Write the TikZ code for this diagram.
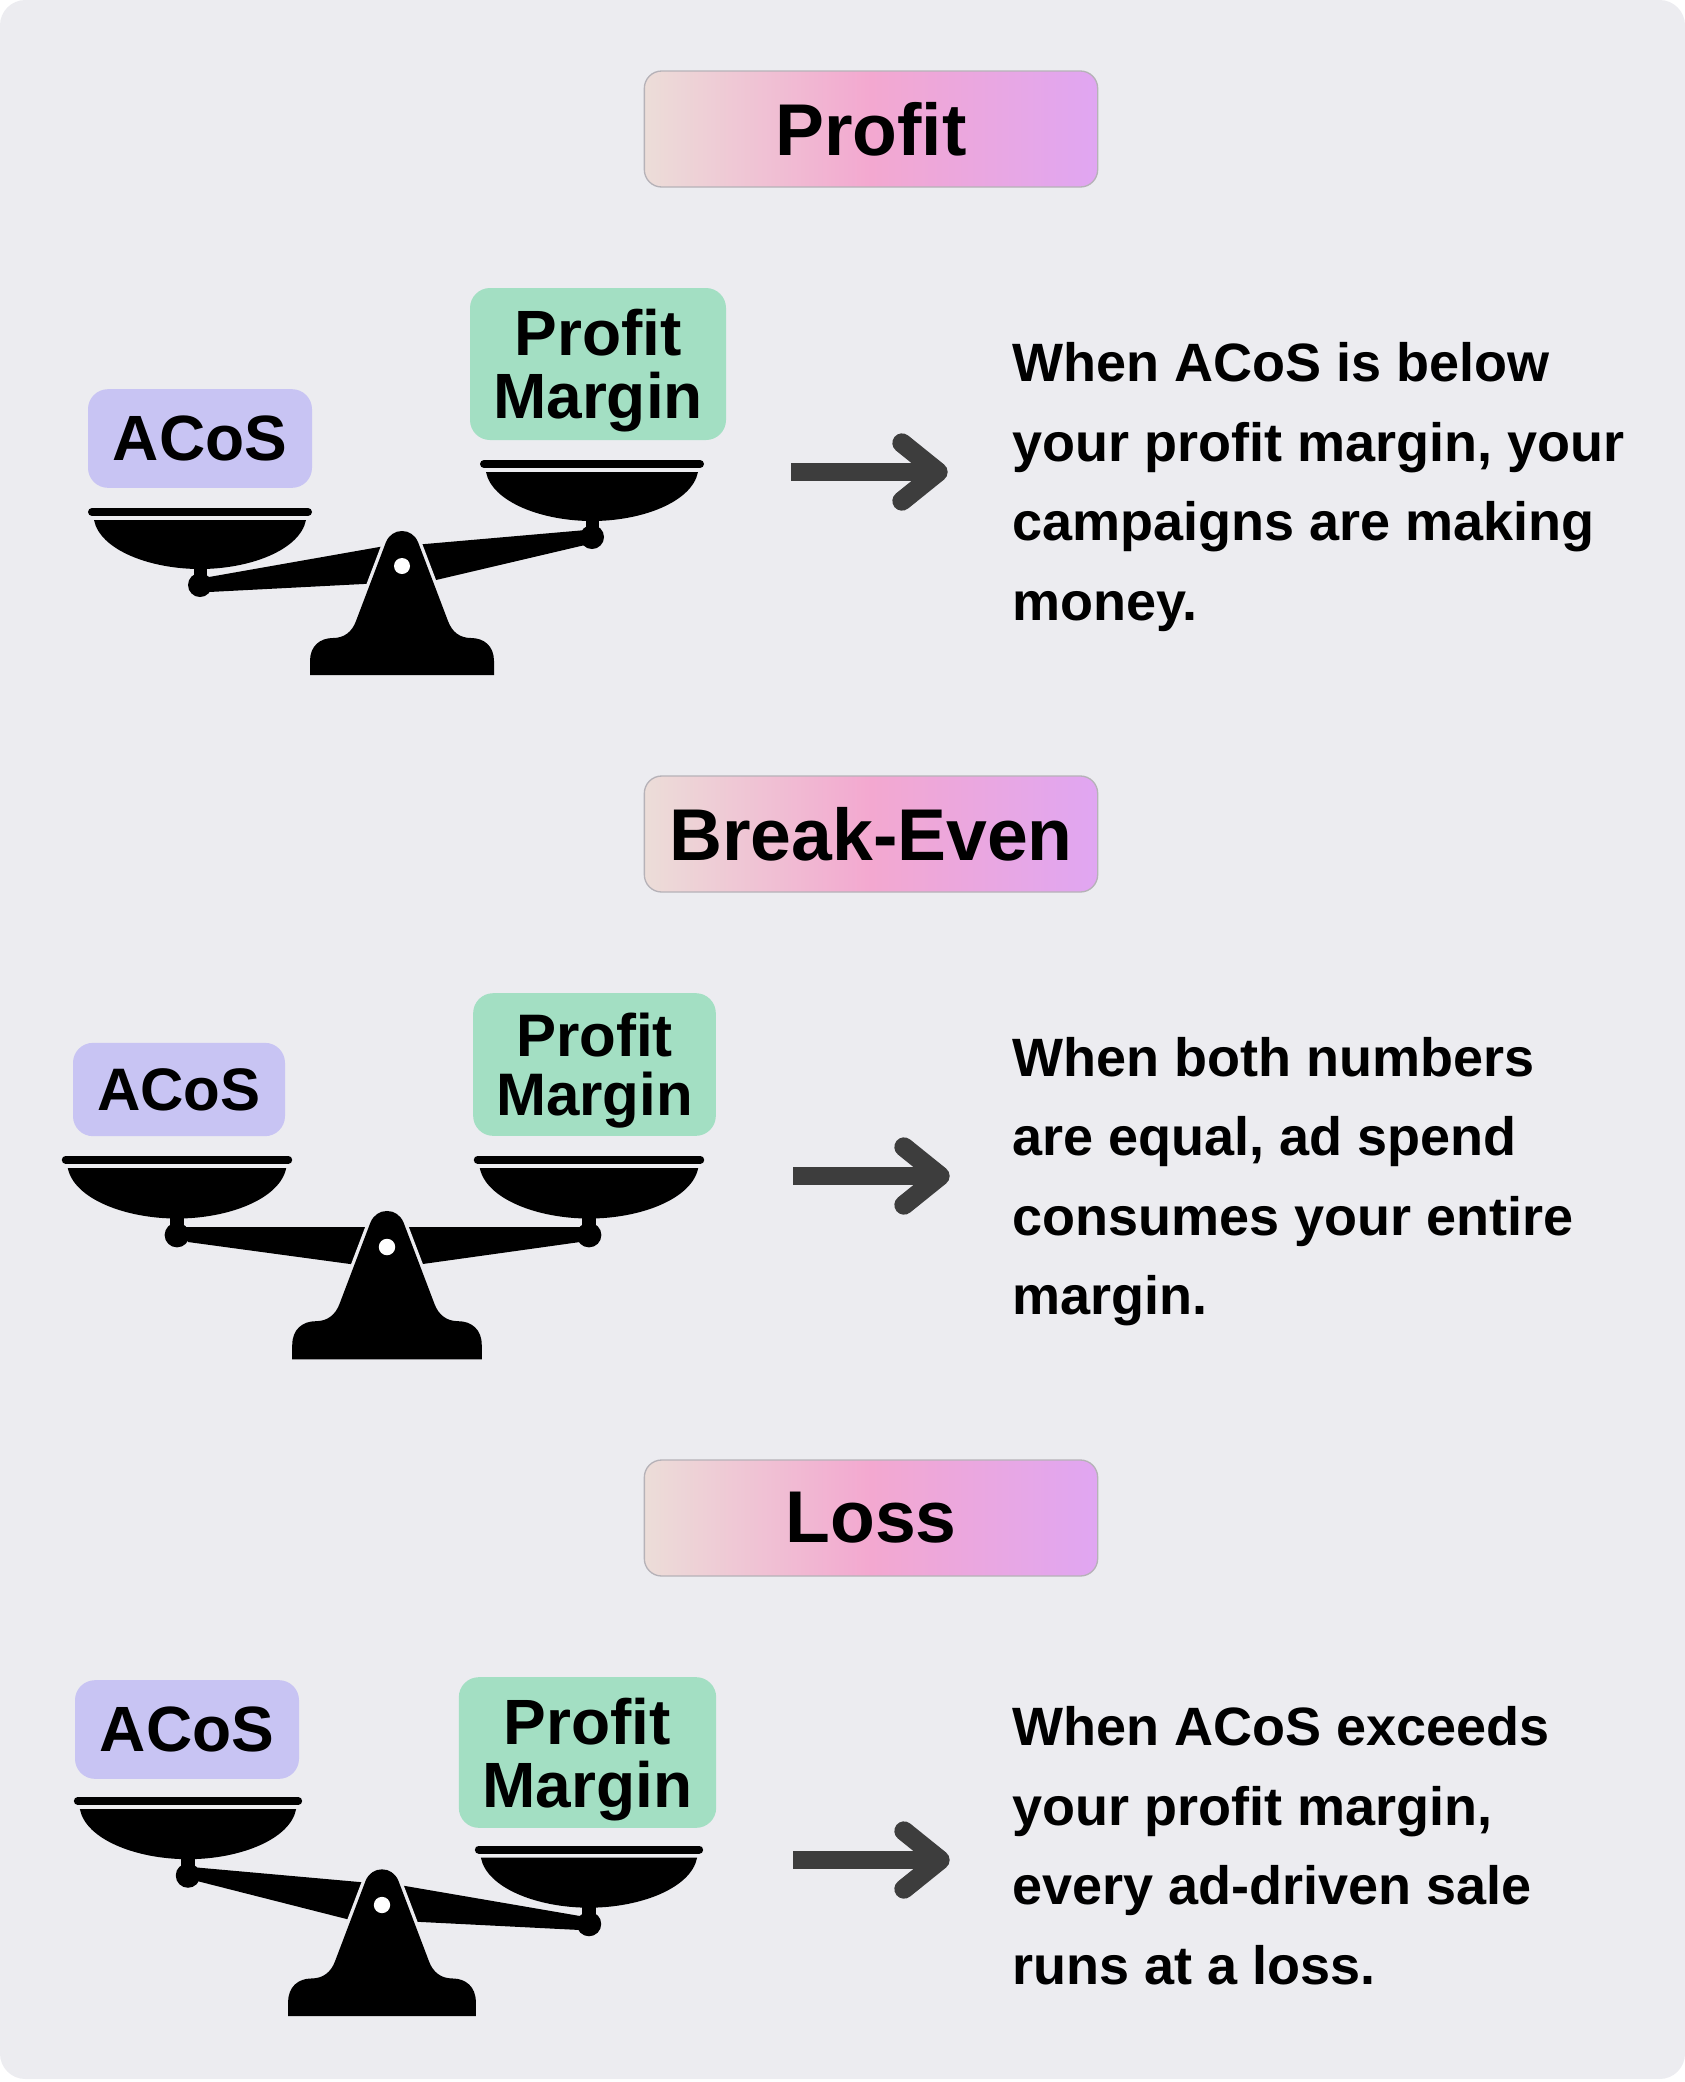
\documentclass[tikz,border=0pt]{standalone}
\usepackage{fontspec}
\setmainfont{Liberation Sans}
\usetikzlibrary{calc}
\definecolor{cardbg}{HTML}{ECECF0}
\definecolor{acosfill}{HTML}{C8C4F3}
\definecolor{marginfill}{HTML}{A3DFC3}
\definecolor{arrowgray}{HTML}{3D3D3D}
\definecolor{titleline}{HTML}{B6B2B8}
\definecolor{gradA}{HTML}{ECDDD8}
\definecolor{gradB}{HTML}{F3A8D0}
\definecolor{gradC}{HTML}{E0A6F2}
\pgfdeclarehorizontalshading{titlegrad}{100bp}{color(0bp)=(gradA); color(25bp)=(gradA); color(50bp)=(gradB); color(75bp)=(gradC); color(100bp)=(gradC)}
\begin{document}
\begin{tikzpicture}[x=0.75pt, y=-0.75pt]
	\tikzset{
		titre/.style={rounded corners=13pt, draw=titleline, line width=1pt, shading=titlegrad, minimum width=340pt, minimum height=87pt, inner sep=0pt, font=\fontsize{55}{55}\selectfont\bfseries},
		acosbox/.style={rounded corners=15pt, fill=acosfill, inner sep=0pt, font=\fontsize{48}{48}\selectfont\bfseries},
		marginbox/.style={rounded corners=15pt, fill=marginfill, inner sep=0pt, align=center, text depth=0pt, font=\fontsize{48}{47}\selectfont\bfseries},
		corps/.style={anchor=base west, align=left, inner sep=0pt, font=\fontsize{40.5}{59.6}\selectfont\bfseries},
		fleche/.style={draw=arrowgray, line width=13.5pt},
		pointe/.style={draw=arrowgray, line width=14.5pt, line cap=round, line join=round},
		pan/.pic={
			\draw[black, line width=6pt, line cap=round] (-108,-73) -- (108,-73);
			\fill[black] (-106,-65) -- (106,-65) .. controls (100,-35) and (50,-16) .. (0,-16) .. controls (-50,-16) and (-100,-35) .. (-106,-65) -- cycle;
			\fill[black] (-6.5,-20) rectangle (6.5,-5);
			\fill[black] (0,0) circle[radius=12];
		},
		stand/.pic={
			\path[fill=black, preaction={draw=cardbg, line width=5pt}] (-92,109) -- (-92,95) .. controls (-92,80) and (-82,72) .. (-69,72) .. controls (-58,72) and (-50,66) .. (-46,55) -- (-16,-24) .. controls (-13,-31) and (-7,-35) .. (0,-35) .. controls (7,-35) and (13,-31) .. (16,-24) -- (46,55) .. controls (50,66) and (58,72) .. (69,72) .. controls (82,72) and (92,80) .. (92,95) -- (92,109) -- cycle;
			\fill[white] (0,0) circle[radius=8];
		}
	}

	\useasboundingbox (0,0) rectangle (1685,2082);
	\fill[cardbg, rounded corners=19pt] (0,0) rectangle (1685,2079);

	\node[titre] (titre1) at (871,129) {Profit};
	\node[titre] (titre2) at (871,834) {Break-Even};
	\node[titre] (titre3) at (871,1518) {Loss};

	% Profit
	\coordinate (hub1) at (402,566);
	\coordinate (knobL1) at (200,585);
	\coordinate (knobR1) at (592,537);
	\fill[black] ($(knobL1)+(9,-8)$) -- ($(hub1)+(0,-23)$) -- ($(hub1)+(0,16)$) -- ($(knobL1)+(9,7)$) -- cycle;
	\fill[black] ($(knobR1)+(-6,-7)$) -- ($(hub1)+(0,-20)$) -- ($(hub1)+(0,22)$) -- ($(knobR1)+(-7,8)$) -- cycle;
	\pic at (knobL1) {pan};
	\pic at (knobR1) {pan};
	\pic at (hub1) {stand};
	\node[acosbox, minimum width=168pt, minimum height=74pt] (acos1) at (200,438.5) {ACoS};
	\node[marginbox, minimum width=192pt, minimum height=114pt] (marge1) at (598,364) {Profit\\Margin};
	\coordinate (deb1) at (791,472);
	\coordinate (fin1) at (938,472);
	\draw[fleche] (deb1) -- (fin1);
	\draw[pointe] ($(fin1)+(-36,-29)$) -- (fin1) -- ($(fin1)+(-36,29)$);
	\node[corps] (texte1) at (1012,620) {When ACoS is below\\your profit margin, your\\campaigns are making\\money.};

	% Break-Even
	\coordinate (hub2) at (387,1247);
	\coordinate (knobL2) at (177,1235);
	\coordinate (knobR2) at (589,1235);
	\fill[black] ($(knobL2)+(9,-8)$) -- ($(hub2)+(0,-20)$) -- ($(hub2)+(0,22)$) -- ($(knobL2)+(11,7)$) -- cycle;
	\fill[black] ($(knobR2)+(-9,-8)$) -- ($(hub2)+(0,-20)$) -- ($(hub2)+(0,22)$) -- ($(knobR2)+(-9,7)$) -- cycle;
	\pic[scale=1.03] at (knobL2) {pan};
	\pic[scale=1.03] at (knobR2) {pan};
	\pic[scale=1.03] at (hub2) {stand};
	\node[acosbox, minimum width=159pt, minimum height=70pt, font=\fontsize{45}{45}\selectfont\bfseries] (acos2) at (179,1089.5) {ACoS};
	\node[marginbox, minimum width=182pt, minimum height=107pt, font=\fontsize{45}{44}\selectfont\bfseries] (marge2) at (594.5,1064.5) {Profit\\Margin};
	\coordinate (deb2) at (793,1176);
	\coordinate (fin2) at (940,1176);
	\draw[fleche] (deb2) -- (fin2);
	\draw[pointe] ($(fin2)+(-36,-29)$) -- (fin2) -- ($(fin2)+(-36,29)$);
	\node[corps] (texte2) at (1012,1314.5) {When both numbers\\are equal, ad spend\\consumes your entire\\margin.};

	% Loss
	\coordinate (hub3) at (382,1905);
	\coordinate (knobL3) at (188,1875.5);
	\coordinate (knobR3) at (589,1924);
	\fill[black] ($(knobL3)+(9,-8)$) -- ($(hub3)+(0,-21)$) -- ($(hub3)+(0,23)$) -- ($(knobL3)+(11,6)$) -- cycle;
	\fill[black] ($(knobR3)+(-9,-8)$) -- ($(hub3)+(0,-23)$) -- ($(hub3)+(0,15)$) -- ($(knobR3)+(-9,6)$) -- cycle;
	\pic[scale=1.02] at (knobL3) {pan};
	\pic[scale=1.02] at (knobR3) {pan};
	\pic[scale=1.02] at (hub3) {stand};
	\node[acosbox, minimum width=168pt, minimum height=74pt] (acos3) at (187,1729.5) {ACoS};
	\node[marginbox, minimum width=193pt, minimum height=113pt] (marge3) at (587.5,1752.5) {Profit\\Margin};
	\coordinate (deb3) at (793,1860);
	\coordinate (fin3) at (940,1860);
	\draw[fleche] (deb3) -- (fin3);
	\draw[pointe] ($(fin3)+(-36,-29)$) -- (fin3) -- ($(fin3)+(-36,29)$);
	\node[corps] (texte3) at (1012,1984) {When ACoS exceeds\\your profit margin,\\every ad-driven sale\\runs at a loss.};
\end{tikzpicture}
\end{document}
